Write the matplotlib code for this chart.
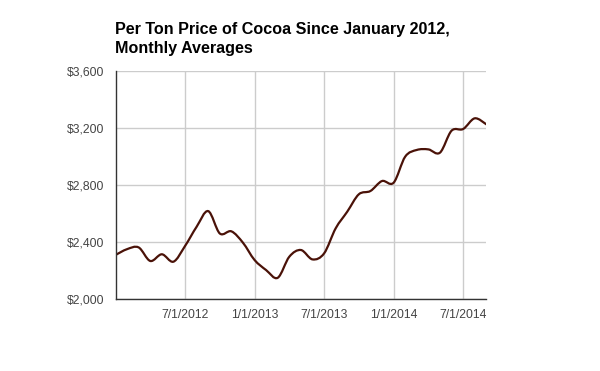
#!/usr/bin/env python3

import numpy as np
import matplotlib
matplotlib.use('Agg')
import matplotlib.pyplot as plt
from matplotlib.path import Path
from matplotlib.patches import PathPatch

plt.rcParams['font.family'] = ['Liberation Sans', 'DejaVu Sans']

# monthly average price per ton, Jan 2012 .. Sep 2014
months = np.arange(33)
price = [2309, 2350, 2362, 2267, 2314, 2262, 2372, 2507, 2617, 2460,
         2475, 2395, 2274, 2203, 2149, 2297, 2344, 2278, 2320, 2496,
         2613, 2735, 2758, 2828, 2816, 2999, 3046, 3050, 3027, 3181,
         3193, 3268, 3226]

xtick_pos = [6, 12, 18, 24, 30]
xtick_labels = ['7/1/2012', '1/1/2013', '7/1/2013', '1/1/2014', '7/1/2014']
ytick_vals = [2000, 2400, 2800, 3200, 3600]
ytick_labels = ['$2,000', '$2,400', '$2,800', '$3,200', '$3,600']

fig = plt.figure(figsize=(6, 3.71), dpi=100)
ax = fig.add_axes([0.1925, 0.194, 0.618, 0.6146])

# smooth curve through the points (catmull-rom -> cubic bezier segments)
x = np.asarray(months, float)
y = np.asarray(price, float)
verts = [(x[0], y[0])]
codes = [Path.MOVETO]
for i in range(len(x) - 1):
    x0, y0 = (x[i - 1], y[i - 1]) if i > 0 else (x[i], y[i])
    x3, y3 = (x[i + 2], y[i + 2]) if i + 2 < len(x) else (x[i + 1], y[i + 1])
    t = 1 / 6
    c1 = (x[i] + (x[i + 1] - x0) * t, y[i] + (y[i + 1] - y0) * t)
    c2 = (x[i + 1] - (x3 - x[i]) * t, y[i + 1] - (y3 - y[i]) * t)
    verts += [c1, c2, (x[i + 1], y[i + 1])]
    codes += [Path.CURVE4] * 3
ax.add_patch(PathPatch(Path(verts, codes), fill=False, edgecolor='#4a1208',
                       lw=1.6, capstyle='round', joinstyle='round', zorder=3))

ax.set_xlim(0, 32)
ax.set_ylim(2000, 3600)
ax.set_xticks(xtick_pos)
ax.set_xticklabels(xtick_labels)
ax.set_yticks(ytick_vals)
ax.set_yticklabels(ytick_labels)
ax.tick_params(length=0, labelsize=8.7, colors='#444444')
ax.tick_params(axis='x', pad=7)
ax.tick_params(axis='y', pad=8)
ax.grid(True, color='#cccccc', lw=1)
ax.set_axisbelow(True)
for s in ['top', 'right']:
    ax.spines[s].set_visible(False)
for s in ['left', 'bottom']:
    ax.spines[s].set_color('#333333')
    ax.spines[s].set_linewidth(1)
    ax.spines[s].set_zorder(4)

fig.text(0.191, 0.942, 'Per Ton Price of Cocoa Since January 2012,\nMonthly Averages',
         fontsize=11.6, fontweight='bold', color='#000000', va='top', ha='left',
         linespacing=1.38)

fig.savefig('out.png', dpi=100)
